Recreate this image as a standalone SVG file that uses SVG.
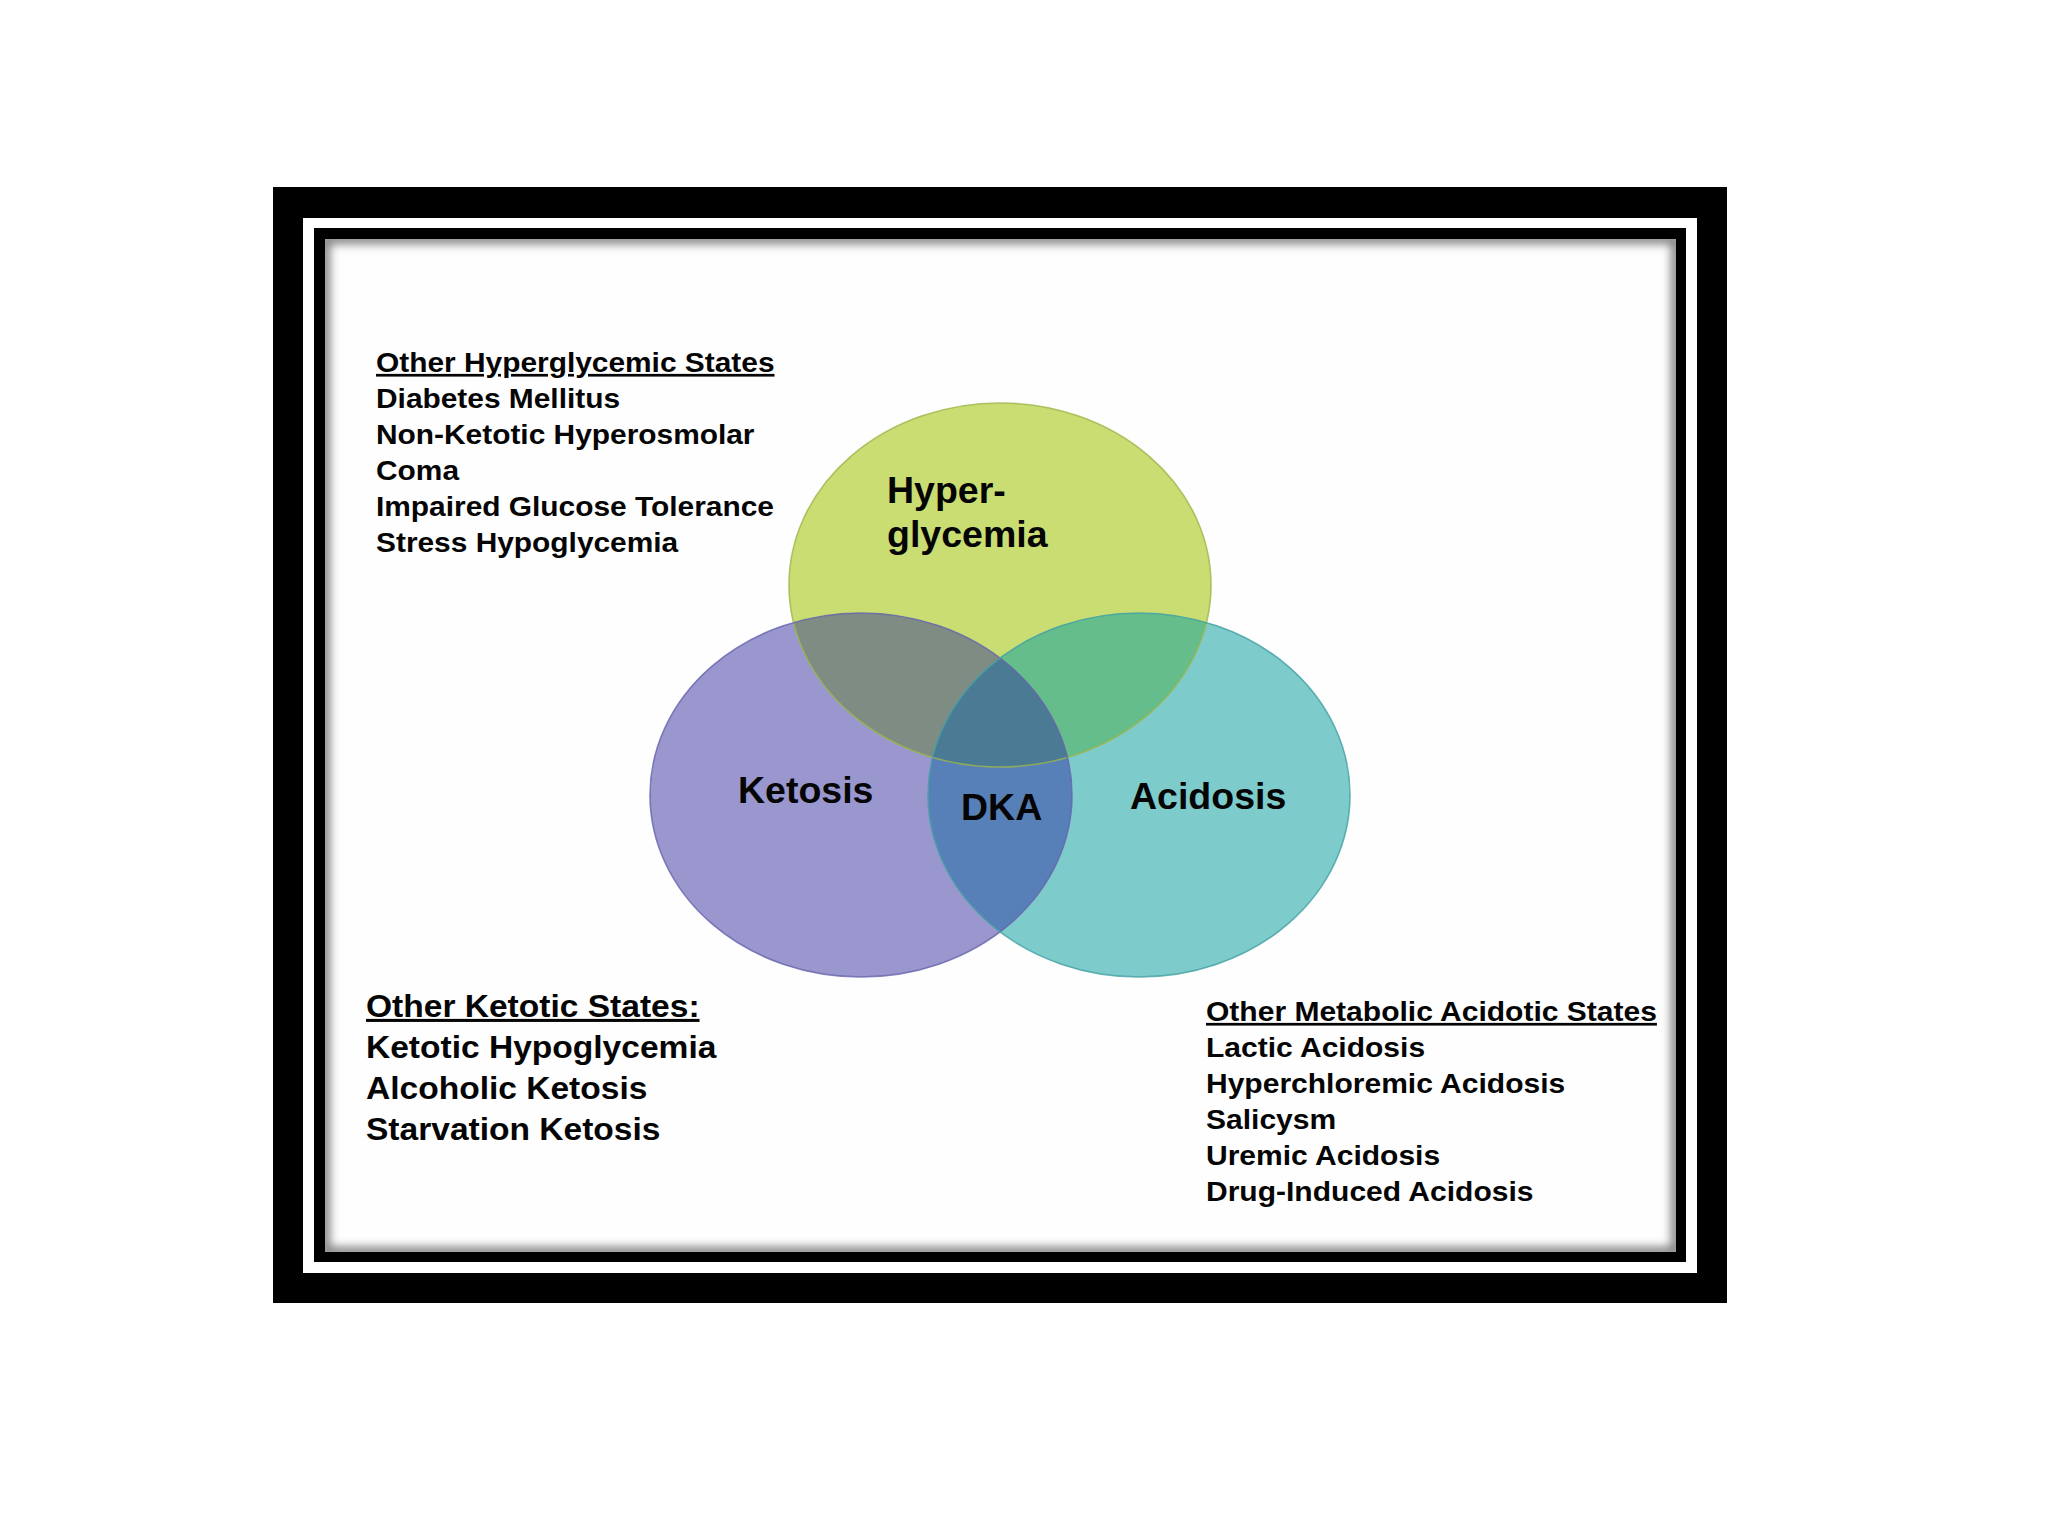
<svg xmlns="http://www.w3.org/2000/svg" width="2048" height="1536" viewBox="0 0 2048 1536">
<style>
.t{font-family:"Liberation Sans",Arial,sans-serif;font-weight:bold;fill:#050505;}
.list{font-size:27px;}
.listL{font-size:30.5px;}
.venn{font-size:37.5px;}
.u{text-decoration:underline;}
.outline{fill:none;stroke-width:1.6;}
</style>
<defs>
<clipPath id="cH"><ellipse cx="1000" cy="585" rx="211" ry="182"/></clipPath>
<clipPath id="cK"><ellipse cx="861" cy="795" rx="211" ry="182"/></clipPath>
<clipPath id="cA"><ellipse cx="1139" cy="795" rx="211" ry="182"/></clipPath>
<clipPath id="cIn"><rect x="325" y="239" width="1351" height="1013"/></clipPath>
<filter id="blur" x="-5%" y="-5%" width="110%" height="110%"><feGaussianBlur stdDeviation="5"/></filter>
</defs>
<rect width="2048" height="1536" fill="#ffffff"/>
<g id="frame">
<rect x="273" y="187" width="1454" height="1116" fill="#000"/>
<rect x="303" y="218" width="1394" height="1055" fill="#fff"/>
<rect x="314" y="228" width="1372" height="1034" fill="#000"/>
<rect x="325" y="239" width="1351" height="1013" fill="#fefefe"/>
<g clip-path="url(#cIn)">
<rect x="325" y="239" width="1351" height="1013" fill="none" stroke="#000" stroke-width="10" stroke-opacity="0.5" filter="url(#blur)"/>
</g>
</g>
<g id="venn-fills">
<g id="node-hyperglycemia"><ellipse cx="1000" cy="585" rx="211" ry="182" fill="#c9dd73"/></g>
<g id="node-ketosis"><ellipse cx="861" cy="795" rx="211" ry="182" fill="#9997cd"/></g>
<g id="node-acidosis"><ellipse cx="1139" cy="795" rx="211" ry="182" fill="#7ecbcc"/></g>
<ellipse id="overlap-hk" cx="861" cy="795" rx="211" ry="182" fill="#7e8c84" clip-path="url(#cH)"/>
<ellipse id="overlap-ha" cx="1139" cy="795" rx="211" ry="182" fill="#64bd8a" clip-path="url(#cH)"/>
<ellipse id="overlap-ka" cx="1139" cy="795" rx="211" ry="182" fill="#5880b8" clip-path="url(#cK)"/>
<g clip-path="url(#cH)"><ellipse id="overlap-hka" cx="1139" cy="795" rx="211" ry="182" fill="#4b7a94" clip-path="url(#cK)"/></g>
</g>
<g id="venn-outlines">
<ellipse class="outline" cx="1000" cy="585" rx="211" ry="182" stroke="#9cb64a" stroke-opacity="0.8"/>
<ellipse class="outline" cx="861" cy="795" rx="211" ry="182" stroke="#6664ac" stroke-opacity="0.8"/>
<ellipse class="outline" cx="1139" cy="795" rx="211" ry="182" stroke="#44a0a3" stroke-opacity="0.8"/>
</g>
<g id="venn-labels">
<text class="t venn" x="887" y="503">Hyper-</text>
<text class="t venn" x="887" y="547">glycemia</text>
<text class="t venn" x="738" y="803">Ketosis</text>
<text class="t venn" x="961" y="820">DKA</text>
<text class="t venn" x="1130" y="809">Acidosis</text>
</g>
<g id="list-hyperglycemic" transform="translate(376,0) scale(1.107,1)">
<text class="t list u" x="0" y="372">Other Hyperglycemic States</text>
<text class="t list" x="0" y="408">Diabetes Mellitus</text>
<text class="t list" x="0" y="444">Non-Ketotic Hyperosmolar</text>
<text class="t list" x="0" y="480">Coma</text>
<text class="t list" x="0" y="516.5">Impaired Glucose Tolerance</text>
<text class="t list" x="0" y="552.5">Stress Hypoglycemia</text>
</g>
<g id="list-ketotic" transform="translate(366,0) scale(1.1,1)">
<text class="t listL u" x="0" y="1017">Other Ketotic States:</text>
<text class="t listL" x="0" y="1058">Ketotic Hypoglycemia</text>
<text class="t listL" x="0" y="1099.5">Alcoholic Ketosis</text>
<text class="t listL" x="0" y="1140.5">Starvation Ketosis</text>
</g>
<g id="list-acidotic" transform="translate(1206,0) scale(1.112,1)">
<text class="t list u" x="0" y="1021">Other Metabolic Acidotic States</text>
<text class="t list" x="0" y="1057">Lactic Acidosis</text>
<text class="t list" x="0" y="1093">Hyperchloremic Acidosis</text>
<text class="t list" x="0" y="1129">Salicysm</text>
<text class="t list" x="0" y="1165">Uremic Acidosis</text>
<text class="t list" x="0" y="1201">Drug-Induced Acidosis</text>
</g>
</svg>
